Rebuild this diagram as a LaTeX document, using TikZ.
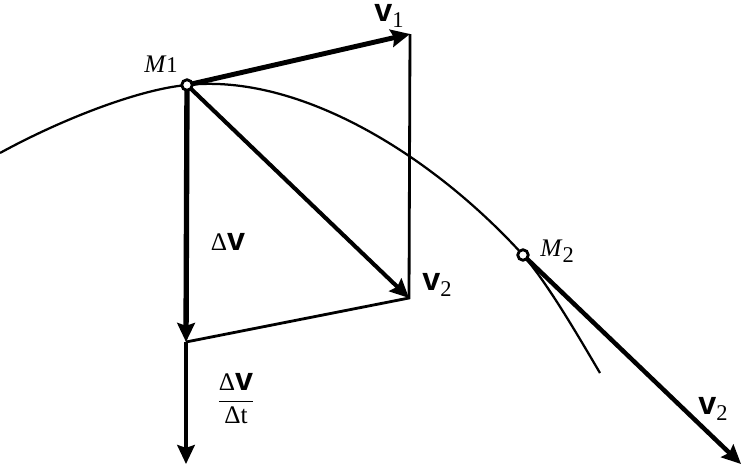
\documentclass[tikz,border=0pt]{standalone}
\usepackage{amsmath}
\usepackage{fontspec}
\setmainfont{Liberation Serif}
\setsansfont{Liberation Sans}
\usetikzlibrary{positioning, arrows.meta}

\newcommand{\bv}{{\fontsize{23}{23}\selectfont\sffamily\bfseries v}}
\newcommand{\ix}[1]{{\fontsize{16}{16}\selectfont #1}}
\newcommand{\sx}[1]{\raisebox{-4.3pt}{\ix{#1}}}

\begin{document}
\begin{tikzpicture}[x=0.025cm, y=-0.025cm,
        tip/.style={-{Stealth[length=13.5pt,width=12.5pt,inset=2pt]}},
        lbl/.style={inner sep=0pt, font=\fontsize{18}{22}\selectfont},
        dot/.style={circle, draw, line width=2pt, fill=white, inner sep=0pt, minimum size=7.5pt}]
    \useasboundingbox (0,0) rectangle (744,467);
    \coordinate (M1) at (187,85);
    \coordinate (V1) at (410,34);
    \coordinate (V2) at (409,298);
    \coordinate (D) at (186,342);
    \coordinate (A) at (186,464);
    \coordinate (M2) at (523,255);
    \coordinate (W) at (741,464);
    \coordinate (E) at (600,373);
    % trajectory
    \draw[line width=1.6pt] (0,153) .. controls (62,119) and (140,89) .. (M1)
        .. controls (300,73) and (433,156) .. (M2)
        .. controls (548,284) and (577,334) .. (E);
    \path[tip]
        (M1) edge[line width=3.5pt] (V1)
        (M1) edge[line width=2.9pt] (V2)
        (M1) edge[line width=3.8pt] (D)
        (D) edge[line width=2.3pt] (A)
        (M2) edge[line width=3.2pt] (W);
    \draw[line width=2pt] (V1) -- (V2) -- (D);
    \node[dot] (m1) at (M1) {};
    \node[dot] (m2) at (M2) {};
    % labels
    \node[lbl] (lm1) at (161,64) {\textit{M}\ix{1}};
    \node[lbl] (lv1) at (389,16) {\bv\sx{1}};
    \node[lbl] (lv2) at (437,285) {\bv\sx{2}};
    \node[lbl] (ldv) at (228,242) {Δ\bv};
    \node[lbl] (lfr) at (236,399) {$\dfrac{\text{Δ\bv}}{\text{Δt}}$};
    \node[lbl] (lm2) at (557,251) {\textit{M}\sx{2}};
    \node[lbl] (lw) at (713,409) {\bv\sx{2}};
\end{tikzpicture}
\end{document}
